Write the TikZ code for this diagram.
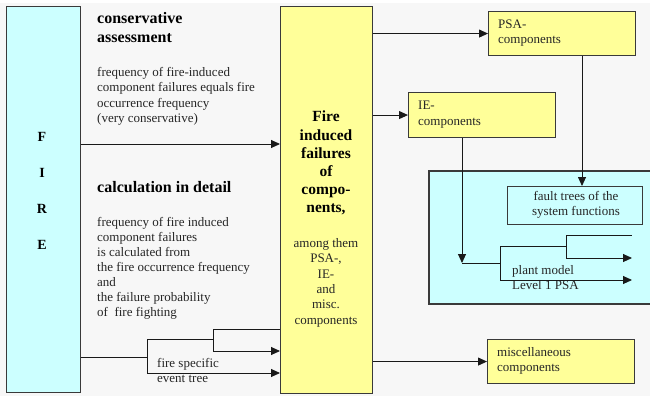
\documentclass[tikz,border=0pt]{standalone}
\usepackage{fontspec}
\setmainfont{Liberation Serif}
\usetikzlibrary{arrows.meta}
\definecolor{cyanbox}{HTML}{CCFFFF}
\definecolor{yelbox}{HTML}{FFFF99}
\definecolor{edge}{HTML}{3A3A3A}
\definecolor{bg}{HTML}{F7F7F7}
\tikzset{
  box/.style={draw=edge,line width=1.1pt,inner sep=0pt,anchor=north west},
  cbox/.style={box,fill=cyanbox},
  ybox/.style={box,fill=yelbox},
  txt/.style={inner sep=0pt,align=left,font=\fontsize{13}{15.5}\selectfont,text=black!85},
  head/.style={inner sep=0pt,align=left,font=\fontsize{16}{19}\selectfont\bfseries},
  line/.style={draw=black!90,line width=0.9pt},
  arr/.style={line,-{Triangle[length=9pt,width=8pt]}},
}
\begin{document}
\begin{tikzpicture}[x=1pt,y=-1pt]
\useasboundingbox (0,0) rectangle (650,396);
\fill[white] (0,0) rectangle (650,396);
\fill[bg] (0,3) rectangle (650,396);
% boxes
\node[cbox,minimum width=74pt,minimum height=386pt] (fire) at (6,6) {};
\node[font=\fontsize{14}{36}\selectfont\bfseries,align=center,inner sep=0pt] (firetxt) at (42,191) {F\\I\\R\\E};
\node[ybox,minimum width=92pt,minimum height=387pt] (mid) at (280,6) {};
\node[ybox,minimum width=147pt,minimum height=44pt] (psa) at (488,11) {};
\node[ybox,minimum width=147pt,minimum height=45pt] (ie) at (408,92) {};
\node[ybox,minimum width=147pt,minimum height=44pt] (misc) at (487,339) {};
% cyan region (open to the right)
\begin{scope}
\clip (0,0) rectangle (650,396);
\fill[cyanbox] (429,171) rectangle (670,304);
\draw[edge,line width=1.1pt] (670,171) -- (429,171) -- (429,304) -- (670,304);
\end{scope}
\node[cbox,minimum width=135pt,minimum height=38pt] (fault) at (507,186) {};
% texts
\node[txt,anchor=west] (psat) at (498,33) {PSA-\\components};
\node[txt,anchor=west] (iet) at (418,114.5) {IE-\\components};
\node[txt,anchor=west] (misct) at (497,361) {miscellaneous\\components};
\node[txt,align=center] (faultt) at (576,205) {fault trees of the\\system functions};
\node[head,anchor=north west] (cons) at (97,12) {conservative\\assessment};
\node[txt,anchor=north west] (consd) at (97,67) {frequency of fire-induced\\component failures equals fire\\occurrence frequency\\(very conservative)};
\node[head,anchor=north west] (calc) at (97,181) {calculation in detail};
\node[txt,anchor=north west,font=\fontsize{13}{15}\selectfont] (calcd) at (97,217) {frequency of fire induced\\component failures\\is calculated from\\the fire occurrence frequency\\and\\the failure probability\\of~ fire fighting};
\node[inner sep=0pt,align=center,font=\fontsize{15.5}{18.2}\selectfont\bfseries,anchor=north] (midh) at (326,111) {Fire\\induced\\failures\\of\\compo-\\nents,};
\node[txt,align=center,anchor=north,font=\fontsize{13}{15.4}\selectfont] (midd) at (326,238) {among them\\PSA-,\\IE-\\and\\misc.\\components};
\node[txt,anchor=north west] (fst) at (157,358) {fire specific\\event tree};
\node[txt,anchor=north west] (pmt) at (512,265) {plant model\\Level 1 PSA};
% coordinates
\coordinate (y144) at (0,144);
\coordinate (xp) at (582,0);
\coordinate (xi) at (462,0);
\coordinate (a0) at (462,263);
\coordinate (a1) at (500,263);
\coordinate (a2) at (500,246);
\coordinate (a3) at (500,280);
\coordinate (a4) at (566,246);
\coordinate (a5) at (566,235);
\coordinate (a6) at (566,258);
\coordinate (e1) at (632,235);
\coordinate (e2) at (632,258);
\coordinate (e3) at (632,280);
\coordinate (b0) at (0,357);
\coordinate (b1) at (147,357);
\coordinate (b2) at (147,339);
\coordinate (b3) at (147,373);
\coordinate (b4) at (213,339);
\coordinate (b5) at (213,329);
\coordinate (b6) at (213,351);
% connectors
\draw[arr] (fire.east|-y144) -- (mid.west|-y144);
\draw[arr] (mid.east|-psa.west) -- (psa.west);
\draw[arr] (mid.east|-ie.west) -- (ie.west);
\draw[arr] (mid.east|-misc.west) -- (misc.west);
\draw[arr] (psa.south-|xp) -- (fault.north-|xp);
\draw[arr] (ie.south-|xi) -- (a0);
\draw[line] (a0) -- (a1);
\draw[line] (a2) -- (a3);
\draw[line] (a2) -- (a4);
\draw[line] (a5) -- (a6);
\draw[line] (a5) -- (e1);
\draw[arr] (a6) -- (e2);
\draw[arr] (a3) -- (e3);
\draw[line] (fire.east|-b0) -- (b1);
\draw[line] (b2) -- (b3);
\draw[line] (b2) -- (b4);
\draw[line] (b5) -- (b6);
\draw[line] (b5) -- (mid.west|-b5);
\draw[arr] (b6) -- (mid.west|-b6);
\draw[arr] (b3) -- (mid.west|-b3);
\end{tikzpicture}
\end{document}
